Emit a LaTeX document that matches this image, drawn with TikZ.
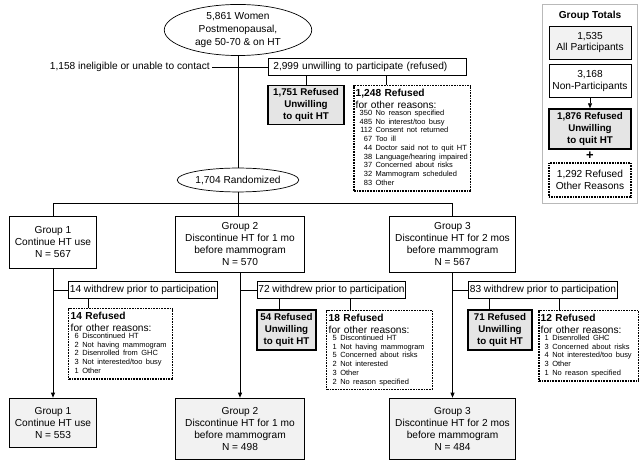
\documentclass[tikz,border=0pt]{standalone}
\usepackage{fontspec}
\setmainfont{Liberation Sans}
\usetikzlibrary{shapes.geometric,arrows.meta}
\newcommand\mainf{\fontsize{10.2}{12}\selectfont}
\newcommand\boldf{\fontsize{9.8}{12}\selectfont\bfseries}
\newcommand\smallf{\fontsize{7.5}{8.8}\selectfont}
\newcommand\reasons[1]{{\smallf\begin{tabular}{@{\hspace{4pt}}r@{ }l}#1\end{tabular}}}
\begin{document}
\begin{tikzpicture}[x=1bp,y=-1bp,
  base/.style={font=\mainf, inner sep=0pt, align=center},
  plainbox/.style={base, draw, line width=0.7pt, fill=white},
  greybox/.style={base, draw, line width=1.6pt, fill=gray!20, font=\boldf},
  finalbox/.style={base, draw, line width=0.9pt, fill=gray!10},
  dotbox/.style={draw, line width=1.5pt, dash pattern=on 0.8pt off 0.8pt, fill=white,
     anchor=north west, inner xsep=2pt, inner ysep=3pt, align=left, font=\mainf},
  oval/.style={base, draw, ellipse, line width=0.7pt},
  conn/.style={line width=0.7pt},
  arr/.style={line width=0.7pt, -{Triangle[length=5pt,width=4pt]}}]
\useasboundingbox (0,0) rectangle (642,467);

% ---- top part
\node[oval, minimum width=148, minimum height=50, font=\fontsize{10.2}{13.5}\selectfont] (E1) at (238,30)
  {5,861 Women\\Postmenopausal,\\age 50-70 \& on HT};
\node[base, anchor=east] (L1158) at (210,67) {1,158 ineligible or unable to contact};
\node[plainbox, minimum width=199, minimum height=17, text width=189, align=left, inner xsep=5pt] (B2999) at (367.5,67)
  {2,999 unwilling to participate (refused)};
\node[greybox, minimum width=76, minimum height=39] (B1751) at (306,105)
  {1,751 Refused\\Unwilling\\to quit HT};
\node[dotbox, text width=113] (D1248) at (353,85)
  {{\bfseries 1,248 Refused}\\for other reasons:\\[0pt]
   \reasons{350 & No reason specified\\ 485 & No interest/too busy\\ 112 & Consent not returned\\
   67 & Too ill\\ 44 & Doctor said not to quit HT\\ 38 & Language/hearing impaired\\
   37 & Concerned about risks\\ 32 & Mammogram scheduled\\ 83 & Other}};
\node[oval, minimum width=122, minimum height=24] (E2) at (238,180) {1,704 Randomized};

\draw[conn] (E1) -- (E2);
\draw[conn] (L1158.east) ++(2,0) -- (B2999.west);
\draw[conn] (B1751.north) -- (B1751.north |- B2999.south);
\path (D1248.north west) ++(33,0) coordinate (d1);
\draw[conn] (d1) -- (d1 |- B2999.south);

% ---- groups
\node[plainbox, minimum width=88, minimum height=52] (G1) at (53,242)
  {Group 1\\Continue HT use\\N = 567};
\node[plainbox, minimum width=129, minimum height=56] (G2) at (240,244)
  {Group 2\\Discontinue HT for 1 mo\\before mammogram\\N = 570};
\node[plainbox, minimum width=127, minimum height=56] (G3) at (452.5,244)
  {Group 3\\Discontinue HT for 2 mos\\before mammogram\\N = 567};
\coordinate (hub) at (238,203);
\draw[conn] (E2.south) -- (E2.south |- G2.north);
\draw[conn] (G1.north) -- (G1.north |- hub) -- (G3.north |- hub) -- (G3.north);

% ---- withdrawals
\node[plainbox, minimum width=150, minimum height=17] (W14) at (143,290) {14 withdrew prior to participation};
\node[plainbox, minimum width=149, minimum height=17] (W72) at (331.5,290) {72 withdrew prior to participation};
\node[plainbox, minimum width=150, minimum height=17] (W83) at (543,290) {83 withdrew prior to participation};

\node[dotbox, text width=100] (D14) at (68,308)
  {{\bfseries 14 Refused}\\for other reasons:\\[0pt]
   \reasons{6 & Discontinued HT\\ 2 & Not having mammogram\\ 2 & Disenrolled from GHC\\
   3 & Not interested/too busy\\ 1 & Other}};
\node[greybox, minimum width=59, minimum height=40] (R54) at (286.5,330) {54 Refused\\Unwilling\\to quit HT};
\node[dotbox, text width=102] (D18) at (326,310)
  {{\bfseries 18 Refused}\\for other reasons:\\[0pt]
   \reasons{5 & Discontinued HT\\ 1 & Not having mammogram\\ 5 & Concerned about risks\\
   2 & Not interested\\ 3 & Other\\ 2 & No reason specified}};
\node[greybox, minimum width=64, minimum height=40] (R71) at (500,330) {71 Refused\\Unwilling\\to quit HT};
\node[dotbox, text width=96] (D12) at (538,310)
  {{\bfseries 12 Refused}\\for other reasons:\\[0pt]
   \reasons{1 & Disenrolled GHC\\ 3 & Concerned about risks\\ 4 & Not interested/too busy\\
   3 & Other\\ 1 & No reason specified}};

% ---- final groups
\node[finalbox, minimum width=88, minimum height=50] (F1) at (53,423)
  {Group 1\\Continue HT use\\N = 553};
\node[finalbox, minimum width=129, minimum height=62] (F2) at (240,429)
  {Group 2\\Discontinue HT for 1 mo\\before mammogram\\N = 498};
\node[finalbox, minimum width=127, minimum height=62] (F3) at (452.5,429)
  {Group 3\\Discontinue HT for 2 mos\\before mammogram\\N = 484};

\draw[arr] (G1) -- (F1);
\draw[arr] (G2) -- (F2);
\draw[arr] (G3) -- (F3);
\draw[conn] (G1.south |- W14.west) -- (W14.west);
\draw[conn] (G2.south |- W72.west) -- (W72.west);
\draw[conn] (G3.south |- W83.west) -- (W83.west);
\path (D14.north west) ++(20,0) coordinate (d14);
\draw[conn] (d14) -- (d14 |- W14.south);
\path (R54.north west) ++(23,0) coordinate (r54);
\draw[conn] (r54) -- (r54 |- W72.south);
\path (D18.north west) ++(24,0) coordinate (d18);
\draw[conn] (d18) -- (d18 |- W72.south);
\path (R71.north west) ++(22,0) coordinate (r71);
\draw[conn] (r71) -- (r71 |- W83.south);
\path (D12.north west) ++(21,0) coordinate (d12);
\draw[conn] (d12) -- (d12 |- W83.south);

% ---- group totals
\node[draw=gray!55, line width=0.9pt, minimum width=96, minimum height=200, inner sep=0pt] (GT) at (590,104) {};
\node[base, font=\mainf\bfseries] (GTt) at (590,16) {Group Totals};
\node[base, draw, line width=0.7pt, fill=gray!10, minimum width=82, minimum height=33] (T1) at (590,42.5) {1,535\\All Participants};
\node[plainbox, minimum width=82, minimum height=33] (T2) at (590,81) {3,168\\Non-Participants};
\node[greybox, minimum width=82, minimum height=40] (T3) at (590,129) {1,876 Refused\\Unwilling\\to quit HT};
\node[base, font=\fontsize{13}{13}\selectfont\bfseries] (plus) at (590,156) {+};
\node[base, draw, line width=1.5pt, dash pattern=on 0.8pt off 0.8pt, minimum width=82, minimum height=34] (T4) at (590,180) {1,292 Refused\\Other Reasons};
\draw[arr] (T2) -- (T3);
\end{tikzpicture}
\end{document}
